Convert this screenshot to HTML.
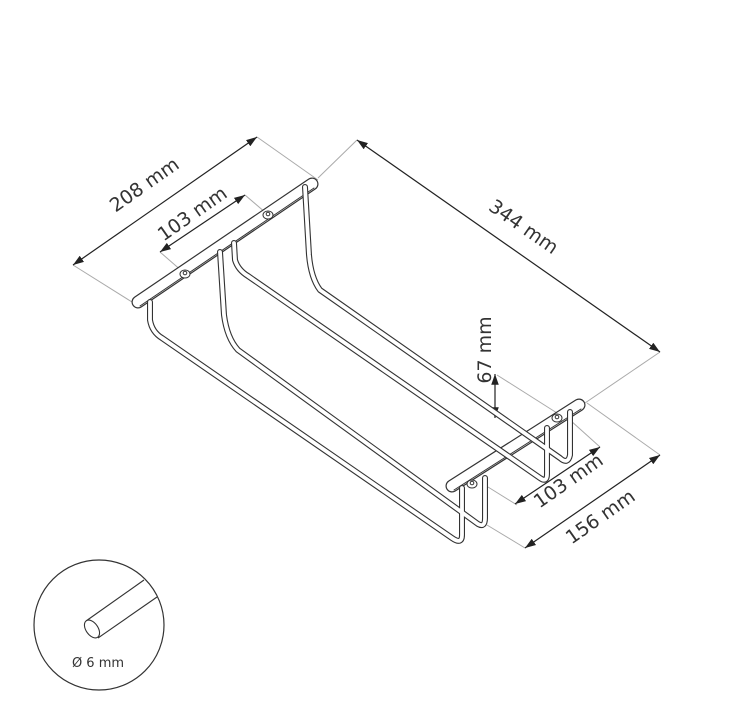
<!DOCTYPE html>
<html><head><meta charset="utf-8"><style>
html,body{margin:0;padding:0;background:#fff;}
svg{display:block;}
text{font-family:"DejaVu Sans","Liberation Sans",sans-serif;fill:#333;}
</style></head><body>
<svg width="731" height="722" viewBox="0 0 731 722" xmlns="http://www.w3.org/2000/svg">
<defs>
<marker id="ar" viewBox="0 0 10 10" refX="10" refY="5" markerWidth="9" markerHeight="9" orient="auto-start-reverse"><path d="M0,1.5 L10,5 L0,8.5 z" fill="#222"/></marker>
</defs>
<rect width="731" height="722" fill="#fff"/>
<g stroke="#aaa" stroke-width="1" fill="none">
<line x1="73" y1="265" x2="132" y2="302"/>
<line x1="257" y1="137" x2="318" y2="180"/>
<line x1="160" y1="252" x2="183" y2="272"/>
<line x1="245" y1="195" x2="266" y2="213"/>
<line x1="357" y1="140" x2="318" y2="178"/>
<line x1="660" y1="352" x2="585" y2="403"/>
<line x1="497" y1="375" x2="557" y2="413"/>
<line x1="488" y1="487" x2="517" y2="505"/>
<line x1="570" y1="420" x2="600" y2="447"/>
<line x1="487" y1="525" x2="525" y2="548"/>
<line x1="587" y1="403" x2="660" y2="455"/>
</g>
<g stroke="#222" stroke-width="1.2" fill="none">
<line x1="73" y1="265" x2="257" y2="137" marker-start="url(#ar)" marker-end="url(#ar)"/>
<line x1="160" y1="252" x2="245" y2="195" marker-start="url(#ar)" marker-end="url(#ar)"/>
<line x1="357" y1="140" x2="660" y2="352" marker-start="url(#ar)" marker-end="url(#ar)"/>
<line x1="495" y1="374" x2="495" y2="418" marker-start="url(#ar)" marker-end="url(#ar)"/>
<line x1="515" y1="504" x2="600" y2="447" marker-start="url(#ar)" marker-end="url(#ar)"/>
<line x1="525" y1="548" x2="660" y2="455" marker-start="url(#ar)" marker-end="url(#ar)"/>
</g>
<text x="148" y="190" font-size="19" text-anchor="middle" transform="rotate(-35 148 190)">208 mm</text>
<text x="196" y="219" font-size="19" text-anchor="middle" transform="rotate(-35 196 219)">103 mm</text>
<text x="520" y="232" font-size="19" text-anchor="middle" transform="rotate(35 520 232)">344 mm</text>
<text x="491" y="350" font-size="19" text-anchor="middle" transform="rotate(-90 491 350)">67 mm</text>
<text x="572" y="486" font-size="19" text-anchor="middle" transform="rotate(-35 572 486)">103 mm</text>
<text x="604" y="522" font-size="19" text-anchor="middle" transform="rotate(-35 604 522)">156 mm</text>
<g stroke-linecap="round" fill="none">
<line x1="138" y1="302" x2="312" y2="184" stroke="#333" stroke-width="13"/>
<line x1="138" y1="302" x2="312" y2="184" stroke="#fff" stroke-width="10.6"/>
<line x1="140" y1="306" x2="314" y2="188" stroke="#333" stroke-width="1"/>
<line x1="452" y1="486" x2="579" y2="405" stroke="#333" stroke-width="13"/>
<line x1="452" y1="486" x2="579" y2="405" stroke="#fff" stroke-width="10.6"/>
<line x1="454" y1="490" x2="581" y2="409" stroke="#333" stroke-width="1"/>
</g>
<g fill="#fff" stroke="#333" stroke-width="1">
<ellipse cx="185" cy="274" rx="5" ry="4"/><circle cx="185" cy="273" r="1.8"/>
<ellipse cx="268" cy="215" rx="5" ry="4"/><circle cx="268" cy="214" r="1.8"/>
<ellipse cx="472" cy="484" rx="5" ry="4"/><circle cx="472" cy="483" r="1.8"/>
<ellipse cx="557" cy="418" rx="5" ry="4"/><circle cx="557" cy="417" r="1.8"/>
</g>
<g fill="none" stroke-linecap="round" stroke-linejoin="round">
<g stroke="#333" stroke-width="6">
<path d="M305,187 L309,255 Q311,278 320,290 L560,458 Q568,465 570,455 L570,412"/>
<path d="M234,243 L235,260 Q238,270 248,276 L540,478 Q547,483 547,474 L547,428"/>
<path d="M150,302 L150,320 Q152,332 162,338 L452,538 Q462,545 462,535 L462,488"/>
<path d="M220,252 L224,315 Q227,338 238,350 L478,524 Q485,528 485,518 L485,478"/>
</g>
<g stroke="#fff" stroke-width="3.8">
<path d="M305,187 L309,255 Q311,278 320,290 L560,458 Q568,465 570,455 L570,412"/>
<path d="M234,243 L235,260 Q238,270 248,276 L540,478 Q547,483 547,474 L547,428"/>
<path d="M150,302 L150,320 Q152,332 162,338 L452,538 Q462,545 462,535 L462,488"/>
<path d="M220,252 L224,315 Q227,338 238,350 L478,524 Q485,528 485,518 L485,478"/>
</g>
</g>
<circle cx="99" cy="625" r="65" fill="#fff" stroke="#333" stroke-width="1.2"/>
<g stroke="#333" stroke-width="1.1" fill="none">
<line x1="86" y1="621" x2="144" y2="580"/>
<line x1="98" y1="638" x2="157" y2="597"/>
<ellipse cx="92" cy="629" rx="6" ry="10" transform="rotate(-35 92 629)" fill="#fff"/>
</g>
<text x="98" y="667" font-size="13" text-anchor="middle">Ø 6 mm</text>
</svg>
</body></html>
